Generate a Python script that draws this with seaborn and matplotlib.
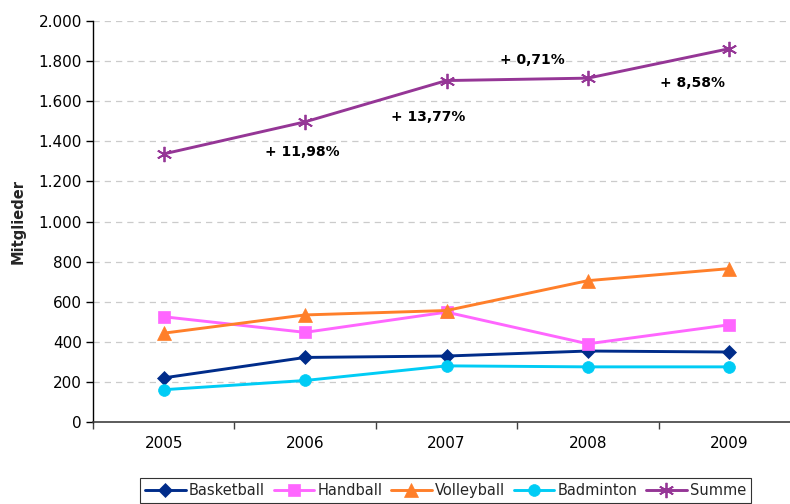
import matplotlib
matplotlib.use("Agg")
import matplotlib.pyplot as plt
import seaborn as sns
import pandas as pd
from matplotlib.ticker import FixedLocator, FuncFormatter

years = ["2005", "2006", "2007", "2008", "2009"]
basketball = [220, 322, 329, 354, 349]
handball = [525, 447, 548, 390, 485]
volleyball = [443, 534, 556, 705, 765]
badminton = [161, 207, 280, 275, 275]
summe = [1337, 1497, 1703, 1715, 1862]

series_names = ["Basketball", "Handball", "Volleyball", "Badminton", "Summe"]
series_values = [basketball, handball, volleyball, badminton, summe]

growth_labels = ["+ 11,98%", "+ 13,77%", "+ 0,71%", "+ 8,58%"]
growth_x = [0.98, 1.87, 2.61, 3.74]
growth_y = [1347, 1521, 1805, 1691]

y_label = "Mitglieder"
y_ticks = [0, 200, 400, 600, 800, 1000, 1200, 1400, 1600, 1800, 2000]

colors = {"Basketball": "#002C8A", "Handball": "#FF66FF", "Volleyball": "#FF7F2A",
          "Badminton": "#00CCF5", "Summe": "#953696"}
markers = {"Basketball": "D", "Handball": "s", "Volleyball": "^",
           "Badminton": "o", "Summe": (6, 2, 0)}
msizes = {"Basketball": 7.5, "Handball": 8, "Volleyball": 9.5,
          "Badminton": 8.5, "Summe": 11}

sns.set_theme(style="white")
plt.rcParams["font.family"] = ["DejaVu Sans"]

fig = plt.figure(figsize=(7.9, 5.04), dpi=100)
ax = fig.add_axes([93 / 790, 82 / 504, 707 / 790, 401 / 504])

xs = list(range(len(years)))
for name, vals in zip(series_names, series_values):
    df = pd.DataFrame({"x": xs, "y": vals})
    c = colors[name]
    sns.lineplot(data=df, x="x", y="y", ax=ax, color=c, linewidth=2.1,
                 marker=markers[name], markersize=msizes[name],
                 markeredgecolor=c, markerfacecolor=c,
                 markeredgewidth=1.3 if name == "Summe" else 0.5,
                 label=name, zorder=3)

for t, gx, gy in zip(growth_labels, growth_x, growth_y):
    ax.text(gx, gy, t, ha="center", va="center", fontsize=10,
            fontweight="bold", color="black", zorder=4)

ax.set_xlim(-0.5, len(years) - 0.5)
ax.set_ylim(0, 2000)

ax.xaxis.set_major_locator(FixedLocator([i - 0.5 for i in range(len(years) + 1)]))
ax.xaxis.set_major_formatter(FuncFormatter(lambda v, p: ""))
ax.xaxis.set_minor_locator(FixedLocator(xs))
ax.set_xticks(xs, labels=years, minor=True)
ax.tick_params(axis="x", which="minor", length=0, pad=10, labelsize=11, colors="black")
ax.tick_params(axis="x", which="major", length=5, width=1, color="#404040", direction="out", bottom=True)

ax.set_yticks(y_ticks)
ax.set_yticklabels([f"{v:,}".replace(",", ".") for v in y_ticks])
ax.tick_params(axis="y", which="major", length=5, width=1, color="black", direction="out",
               left=True, labelsize=11, labelcolor="black", pad=3)

for v in y_ticks[1:]:
    ax.axhline(v, color="#CBCBCB", linewidth=0.9, linestyle=(0, (5, 4)), zorder=1)

ax.set_xlabel("")
ax.set_ylabel(y_label, fontsize=10.5, fontweight="bold", labelpad=9)

for s in ["top", "right"]:
    ax.spines[s].set_visible(False)
ax.spines["left"].set_color("black")
ax.spines["left"].set_linewidth(1)
ax.spines["bottom"].set_color("#404040")
ax.spines["bottom"].set_linewidth(1.2)

leg = ax.legend(loc="upper center", bbox_to_anchor=(445.5 / 790, 1 - 478 / 504),
                bbox_transform=fig.transFigure, ncol=5, frameon=True, fancybox=False,
                edgecolor="black", fontsize=10.5, handlelength=2.8, handletextpad=0.2,
                columnspacing=0.6, borderpad=0.35, borderaxespad=0)
leg.get_frame().set_linewidth(0.8)

fig.savefig("out.png", dpi=100)
